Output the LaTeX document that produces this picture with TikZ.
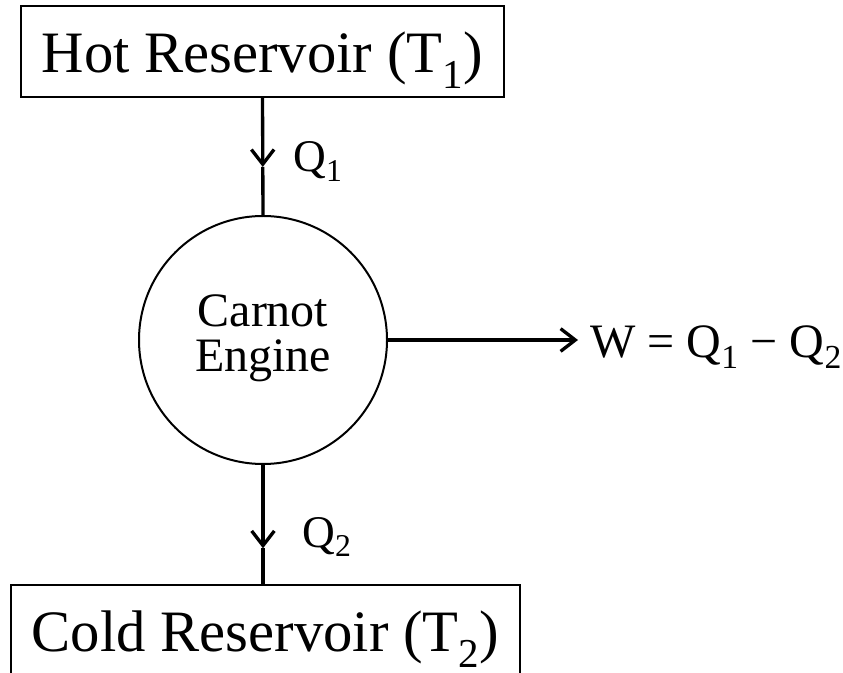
\documentclass[tikz,border=0pt]{standalone}
\usepackage{fontspec}
\setmainfont{Liberation Serif}
\usetikzlibrary{arrows.meta}

\begin{document}
\begin{tikzpicture}[x=0.75pt, y=-0.75pt,
        reservoir/.style={draw, line width=1.3pt, inner sep=0pt, text height=50.25pt, text depth=18pt, font=\fontsize{44}{48}\selectfont},
        engine/.style={draw, circle, line width=1.5pt, inner sep=0pt, minimum size=186pt, font=\fontsize{36}{33}\selectfont},
        heat/.style={inner sep=0pt, anchor=base west, font=\fontsize{34}{38}\selectfont},
        wire/.style={line width=2.5pt},
        flow/.style={wire, -{Straight Barb[length=11pt, width=17pt]}}
    ]
    % Frame
    \useasboundingbox (0, 0) rectangle (843, 673);

    % Reservoirs and engine
    \node[reservoir, minimum width=362.25pt] (hot) at (262.5, 5) [anchor=north] {Hot Reservoir (T\textsubscript{1})};
    \node[engine] (carnot) at (263, 340) {\raisebox{-3pt}{\begin{tabular}{@{}c@{}}Carnot\\Engine\end{tabular}}};
    \node[reservoir, minimum width=381.75pt] (cold) at (265.5, 584) [anchor=north] {Cold Reservoir (T\textsubscript{2})};

    % Heat in
    \path (hot.south) -- (carnot.north) coordinate[pos=0.59] (qintip);
    \draw[flow] (hot.south) -- (qintip);
    \draw[wire] (qintip) -- (carnot.north);
    \node[heat] (qin) at (293, 172) {Q\textsubscript{1}};

    % Heat out
    \path (carnot.south) -- (carnot.south |- cold.north) coordinate[pos=0.7] (qouttip);
    \draw[flow] (carnot.south) -- (qouttip);
    \draw[wire] (qouttip) -- (carnot.south |- cold.north);
    \node[heat] (qout) at (302, 547) {Q\textsubscript{2}};

    % Work
    \node[heat, inner xsep=9pt, font=\fontsize{36}{40}\selectfont] (work) at (578, 358) {W = Q\textsubscript{1} − Q\textsubscript{2}};
    \draw[flow] (carnot.east) -- (carnot.east -| work.west);
\end{tikzpicture}
\end{document}
